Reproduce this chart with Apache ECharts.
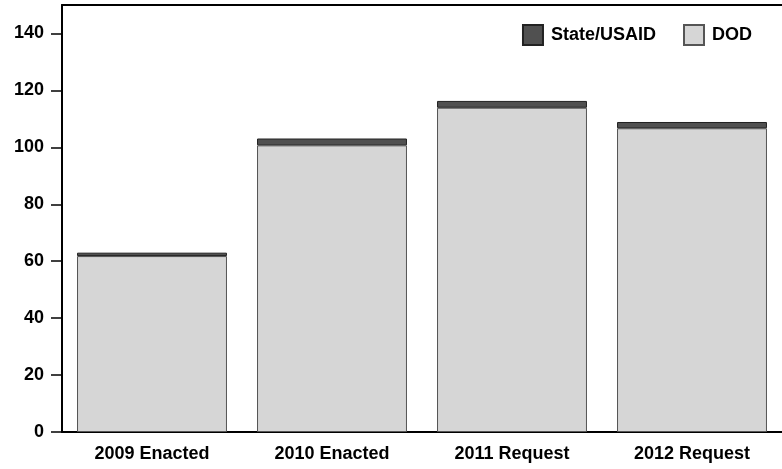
<!DOCTYPE html>
<html>
<head>
<meta charset="utf-8">
<script src="https://cdn.jsdelivr.net/npm/echarts@6/dist/echarts.min.js"></script>
<style>
  html, body { margin: 0; padding: 0; background: #fff; }
  #chart { width: 782px; height: 469px; }
</style>
</head>
<body>
<div id="chart"></div>
<script>
// data
var categories = ['2009 Enacted', '2010 Enacted', '2011 Request', '2012 Request'];
var dodValues = [61.8, 100.7, 113.9, 106.7];
var stateValues = [1.2, 2.4, 2.4, 2.2];
var yTicks = [0, 20, 40, 60, 80, 100, 120, 140];

var chart = echarts.init(document.getElementById('chart'));
var font = '"Liberation Sans", Arial, sans-serif';

chart.setOption({
    animation: false,
    grid: { left: 62, right: 0, top: 5, bottom: 37 },
    legend: {
        right: 25,
        top: 19,
        icon: 'rect',
        itemWidth: 20,
        itemHeight: 20,
        itemGap: 27,
        data: ['State/USAID', 'DOD'],
        textStyle: { fontFamily: font, fontWeight: 'bold', fontSize: 18, color: '#000', padding: [0, 0, 0, 3] }
    },
    xAxis: [{
        type: 'category',
        data: categories,
        axisLine: { lineStyle: { color: '#000', width: 2 } },
        axisTick: { show: false },
        axisLabel: { fontFamily: font, fontWeight: 'bold', fontSize: 18, color: '#000', margin: 13 }
    }, {
        // top frame line
        type: 'category',
        position: 'top',
        data: categories,
        axisLine: { lineStyle: { color: '#000', width: 2 } },
        axisTick: { show: false },
        axisLabel: { show: false }
    }],
    yAxis: {
        type: 'value',
        min: 0,
        max: 150,
        interval: 10,
        splitLine: { show: false },
        axisLine: { show: true, lineStyle: { color: '#000', width: 2 } },
        axisTick: { show: true, length: 11, customValues: yTicks, lineStyle: { color: '#000', width: 1.5 } },
        axisLabel: { customValues: yTicks, fontFamily: font, fontWeight: 'bold', fontSize: 18, color: '#000', margin: 18 }
    },
    series: [{
        name: 'DOD',
        type: 'bar',
        stack: 'total',
        data: dodValues,
        barCategoryGap: '16.7%',
        itemStyle: { color: '#d6d6d6', borderColor: '#555', borderWidth: 1 }
    }, {
        name: 'State/USAID',
        type: 'bar',
        stack: 'total',
        data: stateValues,
        itemStyle: { color: '#505050', borderColor: '#222', borderWidth: 1 }
    }]
});
</script>
</body>
</html>
